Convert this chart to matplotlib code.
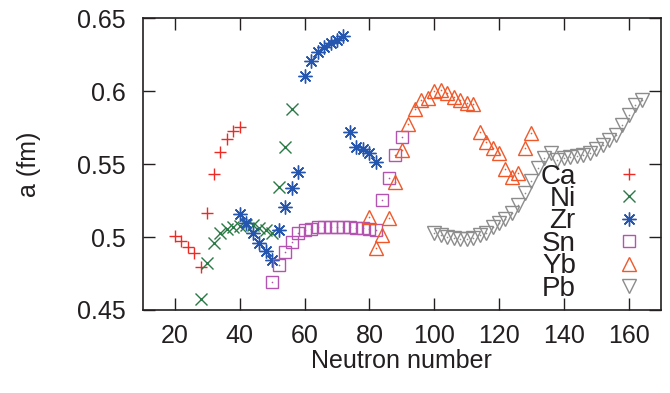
import numpy as np
import matplotlib
matplotlib.use("Agg")
import matplotlib.pyplot as plt

plt.rcParams['font.family'] = ['Liberation Sans', 'DejaVu Sans']

# Diffuseness a (fm) vs neutron number for several isotopic chains
ca_n = [20, 22, 24, 26, 28, 30, 32, 34, 36, 38, 40]
ca_a = [0.5007, 0.497, 0.493, 0.489, 0.4797, 0.5166, 0.5432, 0.5584, 0.5671, 0.5726, 0.5755]

ni_n = [28, 30, 32, 34, 36, 38, 40, 42, 44, 46, 48, 50, 52, 54, 56]
ni_a = [0.4573, 0.482, 0.4957, 0.5025, 0.5053, 0.507, 0.5075, 0.508, 0.5082, 0.506, 0.5048, 0.503,
        0.534, 0.5618, 0.588]

zr_n = [40, 42, 44, 46, 48, 50, 52, 54, 56, 58, 60, 62, 64, 66, 68, 70, 72,
        74, 76, 78, 80, 82]
zr_a = [0.516, 0.5094, 0.5025, 0.4957, 0.4906, 0.4842, 0.5048, 0.5208, 0.5338, 0.5445,
        0.6103, 0.6208, 0.627, 0.6304, 0.6327, 0.6349, 0.6377,
        0.5717, 0.5614, 0.56, 0.5573, 0.5516]

sn_n = [50, 52, 54, 56, 58, 60, 62, 64, 66, 68, 70, 72, 74, 76, 78, 80, 82,
        84, 86, 88, 90]
sn_a = [0.4694, 0.481, 0.4897, 0.4968, 0.5025, 0.5048, 0.5057, 0.5066, 0.507, 0.5072, 0.5072,
        0.507, 0.5066, 0.5063, 0.5059, 0.5053, 0.505,
        0.5255, 0.5405, 0.5562, 0.5687]

yb_n = [80, 82, 84, 86, 88, 90, 92, 94, 96, 98, 100, 102, 104, 106, 108, 110, 112,
        114, 116, 118, 120, 122, 124, 126, 128, 130]
yb_a = [0.5137, 0.4922, 0.5012, 0.513, 0.538, 0.5594, 0.5772, 0.588, 0.5938, 0.595, 0.5998,
        0.6009, 0.5986, 0.5957, 0.5938, 0.5921, 0.5913,
        0.5722, 0.5653, 0.5607, 0.5573, 0.5468, 0.5413, 0.5436, 0.5607, 0.571]

pb_n = list(range(100, 166, 2))
pb_a = [0.503, 0.5015, 0.5003, 0.4993, 0.4986, 0.4986, 0.4996, 0.5012, 0.503, 0.5066,
        0.5098, 0.5125, 0.5162, 0.5222, 0.53, 0.5385, 0.547, 0.5539, 0.5575, 0.5527,
        0.5539, 0.555, 0.5555, 0.5562, 0.5578, 0.56, 0.563, 0.5664, 0.5699, 0.5767,
        0.5836, 0.5904, 0.5938]

xticks = [20, 40, 60, 80, 100, 120, 140, 160]
yticks = [0.45, 0.5, 0.55, 0.6, 0.65]
ytick_labels = ['0.45', '0.5', '0.55', '0.6', '0.65']

ink = '#231f20'

fig = plt.figure(figsize=(6.7, 3.93), dpi=100)
ax = fig.add_axes([0.2128, 0.2112, 0.7738, 0.7428])

mw = 1.0
ax.plot(ca_n, ca_a, ls='none', marker='+', ms=9, mew=mw, color='#ee2a24', label='Ca')
ax.plot(ni_n, ni_a, ls='none', marker='x', ms=8, mew=mw, color='#2a7a45', label='Ni')
ax.plot(zr_n, zr_a, ls='none', marker=(8, 2, 0), ms=10, mew=mw, color='#2456b0', label='Zr')
ax.plot(sn_n, sn_a, ls='none', marker='s', ms=9, mew=mw, mfc='none', color='#b354b0', label='Sn')
ax.plot(yb_n, yb_a, ls='none', marker='^', ms=10, mew=mw, mfc='none', color='#f0582a', label='Yb')
ax.plot(pb_n, pb_a, ls='none', marker='v', ms=10, mew=mw, mfc='none', color='#8c8c8c', label='Pb')

# small centre dots like the original point style
for n, a, c in [(zr_n, zr_a, '#2456b0'), (sn_n, sn_a, '#b354b0'),
                (yb_n, yb_a, '#f0582a'), (pb_n, pb_a, '#8c8c8c')]:
    ax.plot(n, a, ls='none', marker='o', ms=1.2, mew=0, color=c)

ax.set_xlim(10, 170)
ax.set_ylim(0.45, 0.65)
ax.set_xticks(xticks)
ax.set_yticks(yticks)
ax.set_yticklabels(ytick_labels)
ax.tick_params(direction='in', length=8.5, width=1.0, top=True, right=True,
               labelsize=18, colors=ink)
ax.tick_params(axis='y', pad=12)
ax.tick_params(axis='x', pad=10)
for s in ax.spines.values():
    s.set_linewidth(1.2)
    s.set_color(ink)

ax.set_xlabel('Neutron number', fontsize=18, color=ink, labelpad=0.5)
ax.set_ylabel('a (fm)', fontsize=18, color=ink, labelpad=26)

leg = ax.legend(loc='center right', bbox_to_anchor=(0.975, 0.265), frameon=False,
                markerfirst=False, fontsize=20, labelspacing=-0.13,
                handlelength=1.0, handletextpad=1.4, borderpad=0.2, borderaxespad=0)
for t in leg.get_texts():
    t.set_color(ink)

fig.savefig('out.png', dpi=100)
